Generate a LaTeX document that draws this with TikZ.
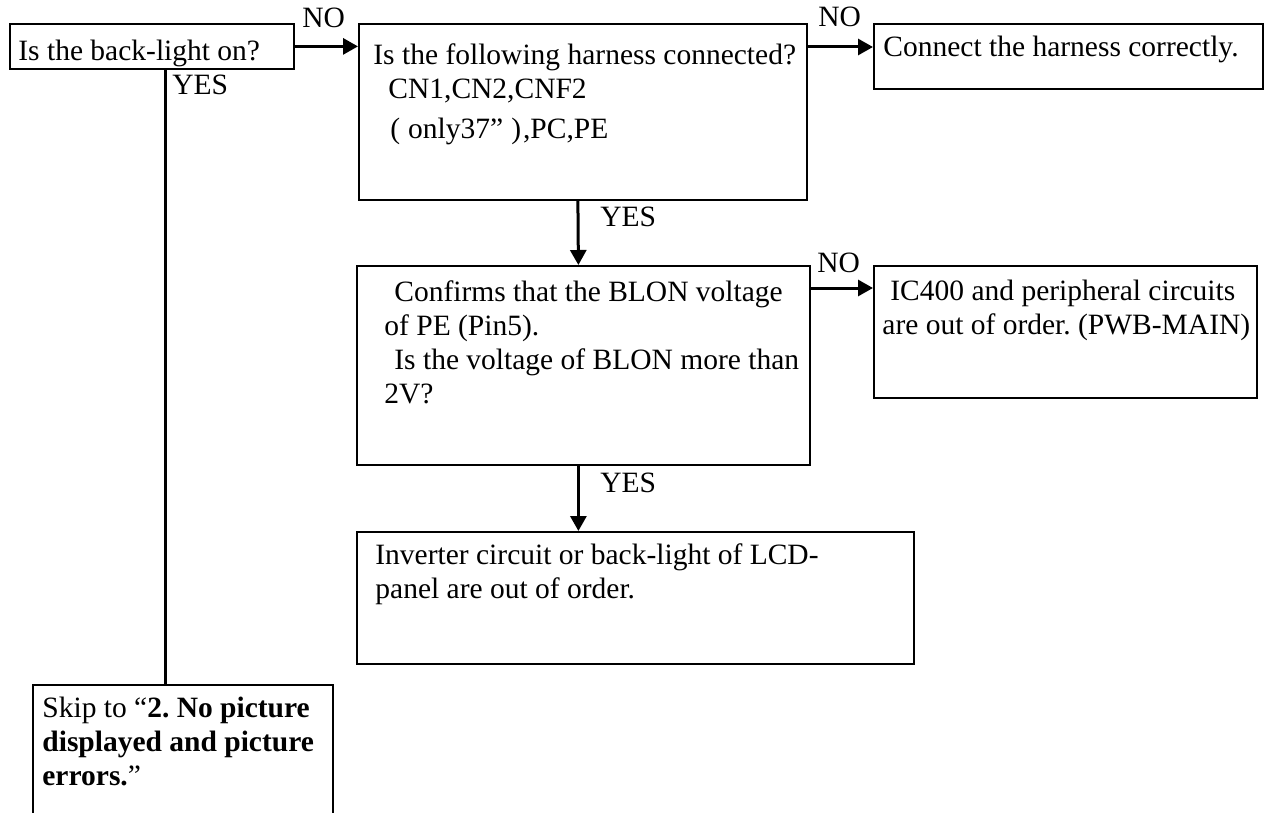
\documentclass[tikz,border=0pt]{standalone}
\usepackage{fontspec}
\setmainfont{Liberation Serif}
\usetikzlibrary{arrows.meta,positioning}
\frenchspacing

\begin{document}
\begin{tikzpicture}[x=0.5pt, y=-0.5pt, >={Triangle[length=7.5pt,width=8pt]},
    every node/.style={font=\fontsize{14.75}{17}\selectfont},
    box/.style={draw, line width=0.9pt, inner sep=0pt, anchor=north west},
    txt/.style={anchor=north west, inner sep=0pt, align=left},
    lbl/.style={anchor=base west, inner sep=0pt},
    flow/.style={->, line width=1.5pt}]
    \useasboundingbox (0,0) rectangle (1265,813);
    \clip (0,0) rectangle (1265,813);
    % Boxes
    \node[box, minimum width=142pt, minimum height=22.5pt] (qlight) at (9,23) {};
    \node[box, minimum width=224pt, minimum height=88pt] (qharness) at (358,23) {};
    \node[box, minimum width=194.5pt, minimum height=32.5pt] (fixharness) at (873,23) {};
    \node[box, minimum width=226.5pt, minimum height=99.5pt] (qblon) at (356,265) {};
    \node[box, minimum width=191.5pt, minimum height=66pt] (icfault) at (873,265) {};
    \node[box, minimum width=278.5pt, minimum height=66pt] (invfault) at (356,531) {};
    \node[box, minimum width=150pt, minimum height=80pt] (skip) at (32,684) {};
    % Box texts
    \node[txt] (qlight-t) at (18,40) {Is the back-light on?};
    \node[txt] (qharness-t) at (373,43) {Is the following harness connected?\\
        \hspace*{7.5pt}CN1,CN2,CNF2\\[3pt]
        \hspace*{8.5pt}(\hspace{4pt}only37''\hspace{4pt})\hspace{1pt},PC,PE};
    \node[txt] (fixharness-t) at (883,36) {Connect the harness correctly.};
    \node[txt] (qblon-t) at (384,280) {\hspace*{5pt}Confirms that the BLON voltage\\
        of PE (Pin5).\\
        \hspace*{5pt}Is the voltage of BLON more than\\
        2V?};
    \node[txt] (icfault-t) at (882,280) {\hspace*{4pt}IC400 and peripheral circuits\\
        are out of order. (PWB-MAIN)};
    \node[txt] (invfault-t) at (375,543) {Inverter circuit or back-light of LCD-\\
        panel are out of order.};
    \node[txt] (skip-t) at (42,697) {Skip to ``\textbf{2. No picture}\\
        \textbf{displayed and picture}\\
        \textbf{errors.}''};
    % Connectors
    \draw[flow] (qlight.east) -- (qlight.east -| qharness.west);
    \draw[flow] ([yshift=-12pt]qharness.north east) -- ([yshift=-12pt]fixharness.north west);
    \draw[flow] ([xshift=-2.5pt]qharness.south) -- ([xshift=-2.5pt]qblon.north);
    \draw[flow] ([yshift=-11.5pt]qblon.north east) -- ([yshift=-11.5pt]icfault.north west);
    \draw[flow] ([xshift=-2.5pt]qblon.south) -- ([xshift=-2.5pt]qblon.south |- invfault.north);
    \draw[line width=1.5pt] ([xshift=7pt]qlight.south) -- ([xshift=7pt]qlight.south |- skip.north);
    % Labels
    \node[lbl] (no1) at (302,28) {NO};
    \node[lbl] (no2) at (818,27) {NO};
    \node[lbl] (no3) at (817,272) {NO};
    \node[lbl] (yes1) at (172,95) {YES};
    \node[lbl] (yes2) at (600,227) {YES};
    \node[lbl] (yes3) at (600,492) {YES};
\end{tikzpicture}
\end{document}
